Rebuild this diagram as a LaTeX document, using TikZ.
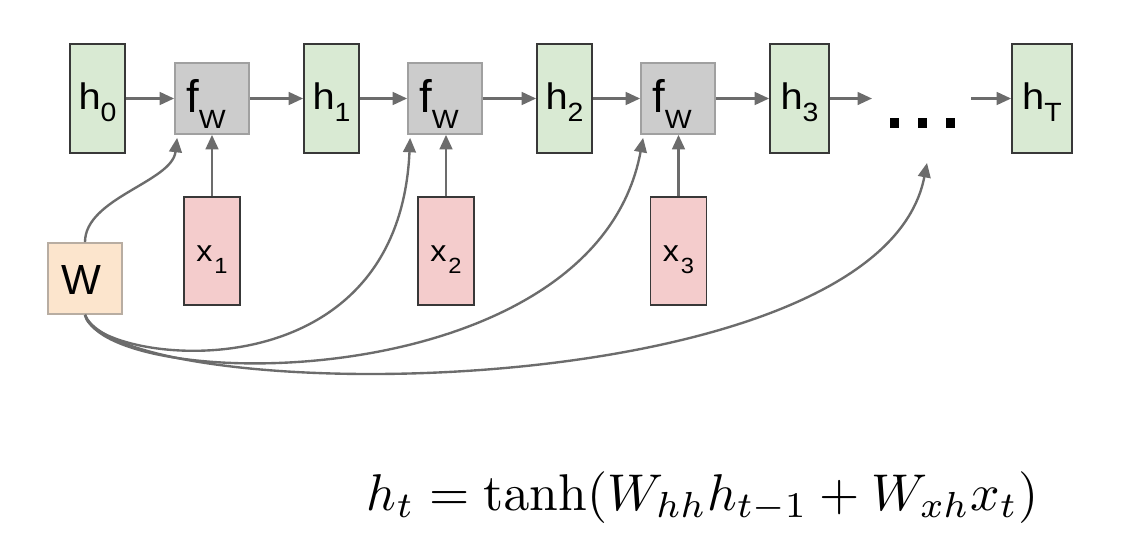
\documentclass[tikz,border=0pt]{standalone}
\usepackage[no-math]{fontspec}
\newfontfamily\arialf{Liberation Sans}
\usetikzlibrary{arrows.meta,calc}
\definecolor{hfill}{HTML}{D9EAD3}
\definecolor{xfill}{HTML}{F4CCCC}
\definecolor{ffill}{HTML}{CCCCCC}
\definecolor{wfill}{HTML}{FCE5CD}
\definecolor{darkedge}{HTML}{383838}
\definecolor{fedge}{HTML}{A0A0A0}
\definecolor{wedge}{HTML}{B8ADA2}
\definecolor{arrowgray}{HTML}{6C6C6C}
\newcommand{\hlbl}[2]{{\arialf\fontsize{21}{21}\selectfont\scalebox{1.08}[1]{#1\raisebox{-6.8pt}{\fontsize{15}{15}\selectfont #2}}}}
\newcommand{\flbl}{{\arialf\fontsize{26}{26}\selectfont f\raisebox{-9pt}{\fontsize{15}{15}\selectfont\scalebox{1.08}[1]{W}}}\kern6.8pt}
\newcommand{\xlbl}[1]{{\arialf\fontsize{17}{17}\selectfont\scalebox{1.08}[1]{x\kern1pt\raisebox{-6.8pt}{\fontsize{12.5}{12.5}\selectfont #1}}}}
\begin{document}
\begin{tikzpicture}[x=0.02cm,y=-0.02cm,
  hbox/.style={draw=darkedge,fill=hfill,line width=1pt,inner sep=0pt,minimum width=1.1cm,minimum height=2.18cm,text height=13pt,text depth=0pt},
  fbox/.style={draw=fedge,fill=ffill,line width=1pt,inner sep=0pt,minimum width=1.48cm,minimum height=1.42cm,text height=16.4pt,text depth=0pt},
  xbox/.style={draw=darkedge,fill=xfill,line width=1pt,inner sep=0pt,minimum width=1.12cm,minimum height=2.16cm,text height=12.4pt,text depth=0pt},
  wbox/.style={draw=wedge,fill=wfill,line width=1pt,inner sep=0pt,minimum width=1.48cm,minimum height=1.42cm,text height=18.7pt,text depth=0pt},
  dotsq/.style={fill=black,inner sep=0pt,minimum width=0.18cm,minimum height=0.19cm},
  conn/.style={draw=arrowgray,line width=1.35pt,-{Triangle[length=8.2pt,width=7.2pt]}}
]
\fill[white] (0,0) rectangle (1140,548);
\useasboundingbox (0,0) rectangle (1140,548);

% top row
\node[hbox] (h0) at (97.5,98.5) {\hlbl{h}{0}};
\node[fbox] (f1) at (212,98.5) {\flbl};
\node[hbox] (h1) at (331.5,98.5) {\hlbl{h}{1}};
\node[fbox] (f2) at (445,98.5) {\flbl};
\node[hbox] (h2) at (564.5,98.5) {\hlbl{h}{2}};
\node[fbox] (f3) at (678,98.5) {\flbl};
\node[hbox,minimum width=1.18cm] (h3) at (799.5,98.5) {\hlbl{h}{3}};
\node[hbox,minimum width=1.2cm] (hT) at (1042,98.5) {\hlbl{h}{T}};

% dots
\node[dotsq] (d1) at (894,123) {};
\node[dotsq] (d2) at (922,123) {};
\node[dotsq] (d3) at (950,123) {};

% inputs
\node[xbox] (x1) at (212,251) {\xlbl{1}};
\node[xbox] (x2) at (446,251) {\xlbl{2}};
\node[xbox] (x3) at (678.5,251) {\xlbl{3}};

% weights
\node[wbox] (W) at (85,278.5) {{\arialf\fontsize{24}{24}\selectfont W}\kern4.5pt};

\coordinate (c1) at (872,98.5);
\coordinate (c2) at (971,98.5);
\coordinate (dt) at (927,163);

% horizontal arrows
\draw[conn] (h0) -- (f1);
\draw[conn] (f1) -- (h1);
\draw[conn] (h1) -- (f2);
\draw[conn] (f2) -- (h2);
\draw[conn] (h2) -- (f3);
\draw[conn] (f3) -- (h3);
\draw[conn] (h3.east) -- (c1);
\draw[conn] (c2) -- (hT.west);

% vertical arrows
\draw[conn] (x1.north) -- (f1.south);
\draw[conn] (x2.north) -- (x2.north |- f2.south);
\draw[conn] (x3.north) -- (x3.north |- f3.south);

% weight curves
\draw[conn] (W.north) .. controls (85,198) and (172,182) .. ($(f1.south west)+(3,3)$);
\draw[conn] (W.south) .. controls (92,362) and (398,405) .. ($(f2.south west)+(3,3)$);
\draw[conn] (W.south) .. controls (110,395) and (595,398) .. ($(f3.south west)+(3,3)$);
\draw[conn] (W.south) .. controls (125,410) and (880,408) .. (dt);

% formula
\node[anchor=base] (eq) at (702.5,510) {\resizebox{382pt}{!}{$h_t = \tanh(W_{hh}h_{t-1} + W_{xh}x_t)$}};
\end{tikzpicture}
\end{document}
